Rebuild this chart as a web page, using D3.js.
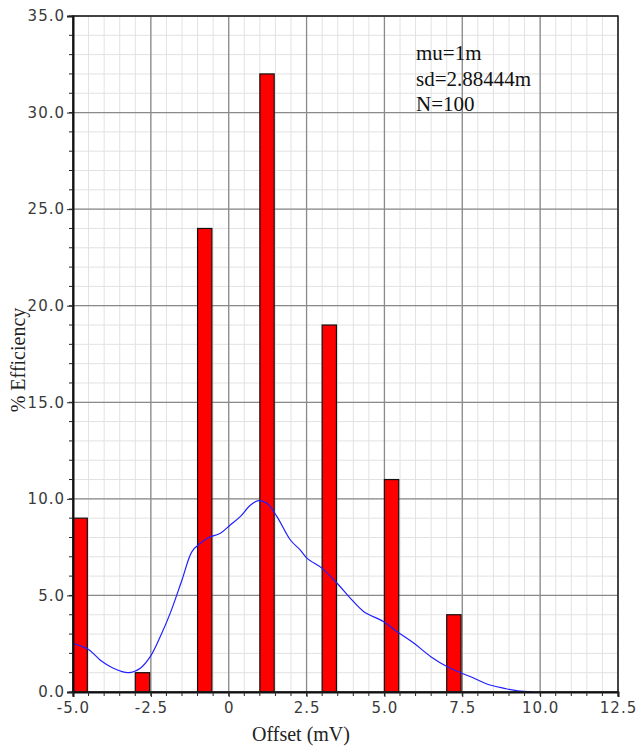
<!DOCTYPE html>
<html>
<head>
<meta charset="utf-8">
<script src="https://cdn.jsdelivr.net/npm/d3@7"></script>
<style>
    body { margin: 0; background: #fff; }
    .tick text { font-family: "DejaVu Sans", sans-serif; }
</style>
</head>
<body>
<svg id="chart" width="637" height="747"></svg>
<script>
// bin left edges (mV) and counts
var binStart = [-5, -3, -1, 1, 3, 5, 7];
var binCount = [9, 1, 24, 32, 19, 11, 4];
var binWidth = 0.46;

// smoothed density curve
var curveX = [-5, -4.5, -4.13, -3.7, -3.22, -2.84, -2.52, -2.2, -1.88, -1.5, -1.18, -0.91, -0.65, -0.27, 0.05, 0.37, 0.7, 0.96, 1.23, 1.55, 1.98, 2.3, 2.52, 3.0, 3.48, 3.91, 4.34, 4.98, 5.41, 5.95, 6.49, 7.02, 7.45, 7.88, 8.31, 8.85, 9.28, 9.76];
var curveY = [2.52, 2.2, 1.66, 1.23, 1.0, 1.23, 1.83, 2.86, 4.07, 5.8, 7.27, 7.7, 7.99, 8.22, 8.65, 9.08, 9.68, 9.91, 9.77, 9.08, 7.87, 7.35, 6.92, 6.4, 5.63, 4.85, 4.16, 3.64, 3.12, 2.52, 1.83, 1.31, 1.0, 0.71, 0.4, 0.19, 0.06, 0.02];

var xTicks = [-5, -2.5, 0, 2.5, 5, 7.5, 10, 12.5];
var yTicks = [0, 5, 10, 15, 20, 25, 30, 35];
var statsText = ["mu=1m", "sd=2.88444m", "N=100"];

var plotLeft = 73, plotRight = 618, plotTop = 16, plotBottom = 692;

var x = d3.scaleLinear().domain([-5, 12.5]).range([plotLeft, plotRight]);
var y = d3.scaleLinear().domain([0, 35]).range([plotBottom, plotTop]);

const svg = d3.select('#chart');

// minor grid
svg.append('g').selectAll('line').data(d3.range(-5, 12.51, 0.5)).enter().append('line')
    .attr('x1', d => x(d)).attr('x2', d => x(d)).attr('y1', plotTop).attr('y2', plotBottom)
    .attr('stroke', '#e2e2e2').attr('stroke-width', 1);
svg.append('g').selectAll('line').data(d3.range(0, 35.01, 1)).enter().append('line')
    .attr('x1', plotLeft).attr('x2', plotRight).attr('y1', d => y(d)).attr('y2', d => y(d))
    .attr('stroke', '#e2e2e2').attr('stroke-width', 1);

// major grid
svg.append('g').selectAll('line').data(xTicks).enter().append('line')
    .attr('x1', d => x(d)).attr('x2', d => x(d)).attr('y1', plotTop).attr('y2', plotBottom)
    .attr('stroke', '#8a8a8a').attr('stroke-width', 1.3);
svg.append('g').selectAll('line').data(yTicks).enter().append('line')
    .attr('x1', plotLeft).attr('x2', plotRight).attr('y1', d => y(d)).attr('y2', d => y(d))
    .attr('stroke', '#8a8a8a').attr('stroke-width', 1.3);

// bars
svg.append('g').selectAll('rect').data(binStart).enter().append('rect')
    .attr('x', d => x(d))
    .attr('width', (d) => x(d + binWidth) - x(d))
    .attr('y', (d, i) => y(binCount[i]))
    .attr('height', (d, i) => plotBottom - y(binCount[i]))
    .attr('fill', '#ff0000')
    .attr('stroke', '#111')
    .attr('stroke-width', 1.2);

// density curve
var pts = curveX.map((v, i) => [v, curveY[i]]);
svg.append('path')
    .datum(pts)
    .attr('d', d3.line().x(d => x(d[0])).y(d => y(d[1])).curve(d3.curveCatmullRom))
    .attr('fill', 'none')
    .attr('stroke', '#2020ff')
    .attr('stroke-width', 1.2);

// frame
svg.append('rect').attr('x', plotLeft).attr('y', plotTop).attr('width', plotRight - plotLeft).attr('height', plotBottom - plotTop)
    .attr('fill', 'none').attr('stroke', '#222').attr('stroke-width', 1.5);

// axes
var fmt = d => (d == 0 && d3.min(xTicks) < 0 ? '0' : d3.format('.1f')(d)).replace('\u2212', '-');
var axisLeft = d3.axisLeft(y).tickValues(yTicks).tickFormat(d => d3.format('.1f')(d)).tickSize(6).tickPadding(2);
var axisBottom = d3.axisBottom(x).tickValues(xTicks).tickFormat(fmt).tickSize(5).tickPadding(5);

var gy = svg.append('g').attr('transform', 'translate(' + plotLeft + ',0)').call(axisLeft);
var gx = svg.append('g').attr('transform', 'translate(0,' + plotBottom + ')').call(axisBottom);
[gy, gx].forEach(function (g) {
    g.select('.domain').attr('stroke', '#111').attr('stroke-width', 2);
    g.selectAll('.tick line').attr('stroke', '#222');
    g.selectAll('.tick text').attr('font-size', 15).attr('fill', '#3a3a3a').attr('letter-spacing', 1);
});

// minor ticks
svg.append('g').selectAll('line').data(d3.range(0, 35.01, 1)).enter().append('line')
    .attr('x1', plotLeft - 4).attr('x2', plotLeft).attr('y1', d => y(d)).attr('y2', d => y(d))
    .attr('stroke', '#222');
svg.append('g').selectAll('line').data(d3.range(-5, 12.51, 0.5)).enter().append('line')
    .attr('x1', d => x(d)).attr('x2', d => x(d)).attr('y1', plotBottom).attr('y2', plotBottom + 4)
    .attr('stroke', '#222');

// titles
svg.append('text')
    .attr('x', 301).attr('y', 741)
    .attr('text-anchor', 'middle')
    .attr('font-family', '"Liberation Serif", serif').attr('font-size', 20).attr('fill', '#222')
    .text('Offset (mV)');
svg.append('text')
    .attr('transform', 'translate(25,' + 360 + ') rotate(-90)')
    .attr('text-anchor', 'middle')
    .attr('font-family', '"Liberation Serif", serif').attr('font-size', 20).attr('fill', '#222')
    .text('% Efficiency');

// stats box
svg.append('g').selectAll('text').data(statsText).enter().append('text')
    .attr('x', 416).attr('y', (d, i) => 60 + i * 25.5)
    .attr('font-family', '"Liberation Serif", serif').attr('font-size', 21).attr('fill', '#111')
    .text(d => d);
</script>
</body>
</html>
